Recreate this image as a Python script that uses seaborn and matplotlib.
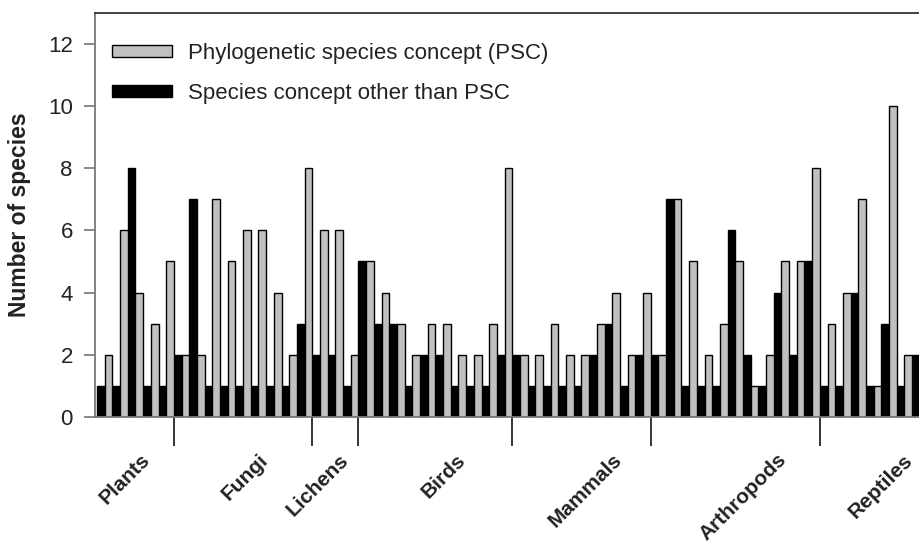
import matplotlib
matplotlib.use("Agg")
import matplotlib.pyplot as plt
import seaborn as sns
import pandas as pd

# Valores (pares de estudos: outro conceito, PSC)
grupos = ["Plants", "Fungi", "Lichens", "Birds", "Mammals", "Arthropods", "Reptiles"]
n_estudos = [5, 9, 3, 10, 9, 11, 7]
outro_conceito = [1, 1, 8, 1, 1,
                  2, 7, 1, 1, 1, 1, 1, 1, 3,
                  2, 2, 1,
                  5, 3, 3, 1, 2, 2, 1, 1, 1, 2,
                  2, 1, 1, 1, 1, 2, 3, 1, 2,
                  2, 7, 1, 1, 1, 6, 2, 1, 4, 2, 5,
                  1, 1, 4, 1, 3, 1, 2]
psc = [2, 6, 4, 3, 5,
       2, 2, 7, 5, 6, 6, 4, 2, 8,
       6, 6, 2,
       5, 4, 3, 2, 3, 3, 2, 2, 3, 8,
       2, 2, 3, 2, 2, 3, 4, 2, 4,
       2, 7, 5, 2, 3, 5, 1, 2, 5, 5, 8,
       3, 4, 7, 1, 10, 2, 3]
# posição dos rótulos dos grupos (em unidades de estudo)
pos_rotulos = [2.3, 10.0, 15.2, 22.8, 33.0, 43.7, 51.9]
cores_divisores = ["black", "#8a8a8a", "black", "black", "#8a8a8a", "black"]

rot_psc = "Phylogenetic species concept (PSC)"
rot_outro = "Species concept other than PSC"
estudos = list(range(len(psc)))
dados = pd.DataFrame({
    "estudo": estudos * 2,
    "conceito": [rot_outro] * len(estudos) + [rot_psc] * len(estudos),
    "especies": outro_conceito + psc,
})

sns.set_style("white")
plt.rcParams["font.family"] = ["Liberation Sans", "DejaVu Sans"]

fig = plt.figure(figsize=(9.2, 5.46), dpi=100)
ax = fig.add_axes([95 / 920, 129 / 546, 845 / 920, 404.3 / 546])
sns.barplot(data=dados, x="estudo", y="especies", hue="conceito",
            hue_order=[rot_outro, rot_psc],
            palette={rot_outro: "black", rot_psc: "#c0c0c0"},
            width=1.0, edgecolor="black", linewidth=1.0, saturation=1,
            ax=ax)

ax.set_xlim(-0.63, 54.31)
ax.set_ylim(0, 13)
ax.set_yticks(range(0, 13, 2))
ax.tick_params(axis="y", labelsize=16, length=8, width=1.2, color="#777777",
               pad=8, labelcolor="#222222", left=True)
ax.set_ylabel("Number of species", fontsize=16.5, fontweight="bold",
              color="#222222", labelpad=12)
ax.set_xlabel("")

# divisores entre grupos
limites = []
acum = 0
for n in n_estudos[:-1]:
    acum += n
    limites.append(acum - 0.5)
ax.set_xticks(limites)
ax.set_xticklabels([""] * len(limites))
ax.tick_params(axis="x", which="major", length=21, width=1.3, bottom=True,
               direction="out")
for t, c in zip(ax.xaxis.get_major_ticks(), cores_divisores):
    t.tick1line.set_color(c)

ax.set_xticks(pos_rotulos, minor=True)
ax.set_xticklabels(grupos, minor=True, rotation=45, ha="right", va="top",
                   rotation_mode="anchor", fontsize=15, fontweight="bold",
                   color="#222222")
ax.tick_params(axis="x", which="minor", length=0, pad=24)

for lado in ["left", "bottom"]:
    ax.spines[lado].set_color("#777777")
    ax.spines[lado].set_linewidth(1.3)
ax.spines["top"].set_color("#333333")
ax.spines["top"].set_linewidth(1.3)
ax.spines["right"].set_visible(False)

handles, labels = ax.get_legend_handles_labels()
ax.legend(handles[::-1], labels[::-1], loc="upper left",
          bbox_to_anchor=(17 / 845, 1 - 30 / 404.3), frameon=False,
          fontsize=16, handlelength=2.7, handleheight=0.45, handletextpad=0.72,
          labelspacing=0.85, borderpad=0, borderaxespad=0, labelcolor="#222222")

fig.savefig("out.png", dpi=100)
